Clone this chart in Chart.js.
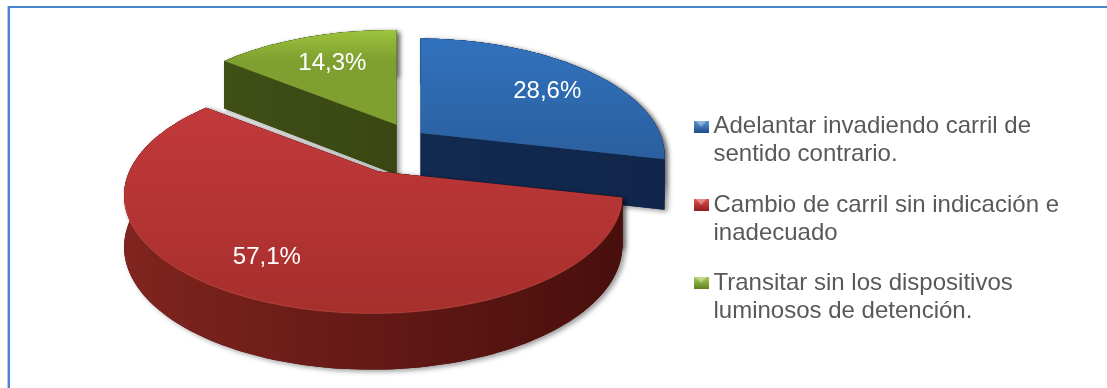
<!DOCTYPE html>
<html>
<head>
<meta charset="utf-8">
<style>
    html, body { margin: 0; background: #fff; }
    #frame {
        position: absolute; left: 8px; top: 6px; right: 0; bottom: 0;
        border-top: 2px solid #4a86cb;
        border-left: 2px solid #4a86cb;
        box-shadow: -1px 0 0 #b5cbe6;
    }
    #wrap { position: absolute; left: 0; top: 0; width: 1107px; height: 388px; }
</style>
</head>
<body>
<div id="frame"></div>
<div id="wrap"><canvas id="chart" width="1107" height="388"></canvas></div>
<script src="https://cdn.jsdelivr.net/npm/chart.js@4/dist/chart.umd.js"></script>
<script>
const categories = [
    ['Adelantar invadiendo carril de', 'sentido contrario.'],
    ['Cambio de carril sin indicación e', 'inadecuado'],
    ['Transitar sin los dispositivos', 'luminosos de detención.']
];
const shares = [28.6, 57.1, 14.3];

// Colours per slice: top surface (far, near), wall (left, right)
const topColors = [['#3172bd', '#2b5f9f'], ['#c2393b', '#a62f2c'], ['#9cc43c', '#7f9f30']];
const wallColors = [['#122a50', '#10264a'], ['#80241f', '#480f0c'], ['#3f4f16', '#3a4712']];
const swatchColors = [['#5b93d6', '#1f4f8c'], ['#e0504f', '#8f1f1f'], ['#a9cc55', '#5f7f22']];

// How the flat pie is tilted into the fake 3D view
const explode = [15, 70, 28];
const view = { riseY: -83, squashX: 1.849, squashY: 0.86, offsetY: 0.53, perspY: 0.2, perspX: -0.02, depth: 50 };
const labelRadius = 0.7;
const labelDrift = [5, -26, 2];
const labelDrop = 3;

function project(el, angle, r) {
    const theta = angle + Math.PI / 2;
    const X = r * Math.sin(theta), Y = -r * Math.cos(theta);
    const s = 1 / (1 - view.perspY * Y - view.perspX * X);
    const off = el.options.offset;
    const mid = (el.startAngle + el.endAngle) / 2 + Math.PI / 2;
    const ax = el.x + off * Math.sin(mid);
    const ay = el.y + view.riseY - off * Math.cos(mid) * view.offsetY;
    return {
        x: ax + el.outerRadius * view.squashX * X * s,
        y: ay + el.outerRadius * view.squashY * Y * s,
        d: view.depth * (1 + 0.5 * (s - 1))
    };
}

function rimPoints(el) {
    const pts = [];
    const steps = Math.ceil((el.endAngle - el.startAngle) * 40);
    for (let i = 0; i <= steps; i++) {
        pts.push(project(el, el.startAngle + (el.endAngle - el.startAngle) * i / steps, 1));
    }
    return pts;
}

function tracePoly(ctx, pts) {
    ctx.beginPath();
    pts.forEach((p, i) => (i ? ctx.lineTo(p.x, p.y) : ctx.moveTo(p.x, p.y)));
    ctx.closePath();
}

function down(pts) {
    return pts.map(p => ({ x: p.x, y: p.y + p.d }));
}

function bounds(pts) {
    const xs = pts.map(p => p.x), ys = pts.map(p => p.y);
    return { l: Math.min(...xs), r: Math.max(...xs), t: Math.min(...ys), b: Math.max(...ys) };
}

const pie3d = {
    id: 'pie3d',
    beforeDatasetDraw(chart, args) {
        const ctx = chart.ctx;
        const arcs = args.meta.data;
        // Painter's order: back slices first
        [2, 0, 1].forEach(i => {
            const el = arcs[i];
            const rim = rimPoints(el);
            const apex = project(el, el.startAngle, 0);
            const top = [apex, ...rim];
            const b = bounds(rim);

            const wall = ctx.createLinearGradient(b.l, 0, b.r, 0);
            wall.addColorStop(0, wallColors[i][0]);
            wall.addColorStop(1, wallColors[i][1]);

            // soft shadow under the whole slice
            ctx.save();
            ctx.shadowColor = 'rgba(0,0,0,0.4)';
            ctx.shadowBlur = 5;
            ctx.shadowOffsetX = 3;
            ctx.shadowOffsetY = 2;
            ctx.fillStyle = wallColors[i][1];
            tracePoly(ctx, top);
            ctx.fill();
            tracePoly(ctx, [...rim, ...down(rim).reverse()]);
            ctx.fill();
            tracePoly(ctx, [apex, rim[rim.length - 1], ...down([rim[rim.length - 1], apex])]);
            ctx.fill();
            tracePoly(ctx, [apex, rim[0], ...down([rim[0], apex])]);
            ctx.fill();
            ctx.restore();

            ctx.fillStyle = wall;
            tracePoly(ctx, [apex, rim[0], ...down([rim[0], apex])]);
            ctx.fill();
            tracePoly(ctx, [apex, rim[rim.length - 1], ...down([rim[rim.length - 1], apex])]);
            ctx.fill();
            tracePoly(ctx, [...rim, ...down(rim).reverse()]);
            ctx.fill();

            const face = ctx.createLinearGradient(0, b.t, 0, b.b);
            face.addColorStop(0, topColors[i][0]);
            face.addColorStop(1, topColors[i][1]);
            ctx.fillStyle = face;
            tracePoly(ctx, top);
            ctx.fill();

            // thin light edge along the front of the rim
            const front = rim.filter(p => p.y > apex.y + 30);
            if (front.length) {
                ctx.strokeStyle = 'rgba(225,95,85,0.45)';
                ctx.lineWidth = 1;
                ctx.beginPath();
                front.forEach((p, k) => (k ? ctx.lineTo(p.x, p.y) : ctx.moveTo(p.x, p.y)));
                ctx.stroke();
            }
        });

        // percentage labels on top of the slices
        ctx.save();
        ctx.font = '24px "Liberation Sans", Arial, sans-serif';
        ctx.fillStyle = '#ffffff';
        ctx.textAlign = 'center';
        ctx.textBaseline = 'middle';
        arcs.forEach((el, i) => {
            const p = project(el, (el.startAngle + el.endAngle) / 2, labelRadius);
            ctx.fillText(shares[i].toFixed(1).replace('.', ',') + '%', p.x + labelDrift[i], p.y + labelDrop);
        });
        ctx.restore();
        return false;
    }
};

function makeSwatch(colors) {
    const c = document.createElement('canvas');
    c.width = 15;
    c.height = 12;
    const g = c.getContext('2d');
    const grad = g.createLinearGradient(0, 0, 0, 12);
    grad.addColorStop(0, colors[0]);
    grad.addColorStop(1, colors[1]);
    g.fillStyle = grad;
    g.fillRect(0, 0, 15, 12);
    g.fillStyle = 'rgba(255,255,255,0.35)';
    g.beginPath();
    g.moveTo(2, 0);
    g.lineTo(13, 0);
    g.lineTo(7.5, 6);
    g.closePath();
    g.fill();
    return c;
}

new Chart(document.getElementById('chart'), {
    type: 'pie',
    data: {
        labels: categories,
        datasets: [{
            data: shares,
            offset: explode,
            borderWidth: 0,
            backgroundColor: topColors.map(c => c[0])
        }]
    },
    plugins: [pie3d],
    options: {
        responsive: false,
        animation: false,
        layout: { padding: { left: 139, right: 38, top: 54, bottom: 0 } },
        plugins: {
            tooltip: { enabled: false },
            legend: {
                position: 'right',
                labels: {
                    color: '#595959',
                    font: { family: '"Liberation Sans", Arial, sans-serif', size: 24, lineHeight: 1.17 },
                    usePointStyle: true,
                    pointStyleWidth: 1,
                    boxHeight: 15,
                    padding: 22,
                    generateLabels: () => categories.map((text, i) => ({
                        text,
                        fontColor: '#595959',
                        pointStyle: makeSwatch(swatchColors[i]),
                        lineWidth: 0,
                        index: i
                    }))
                }
            }
        }
    }
});
</script>
</body>
</html>
